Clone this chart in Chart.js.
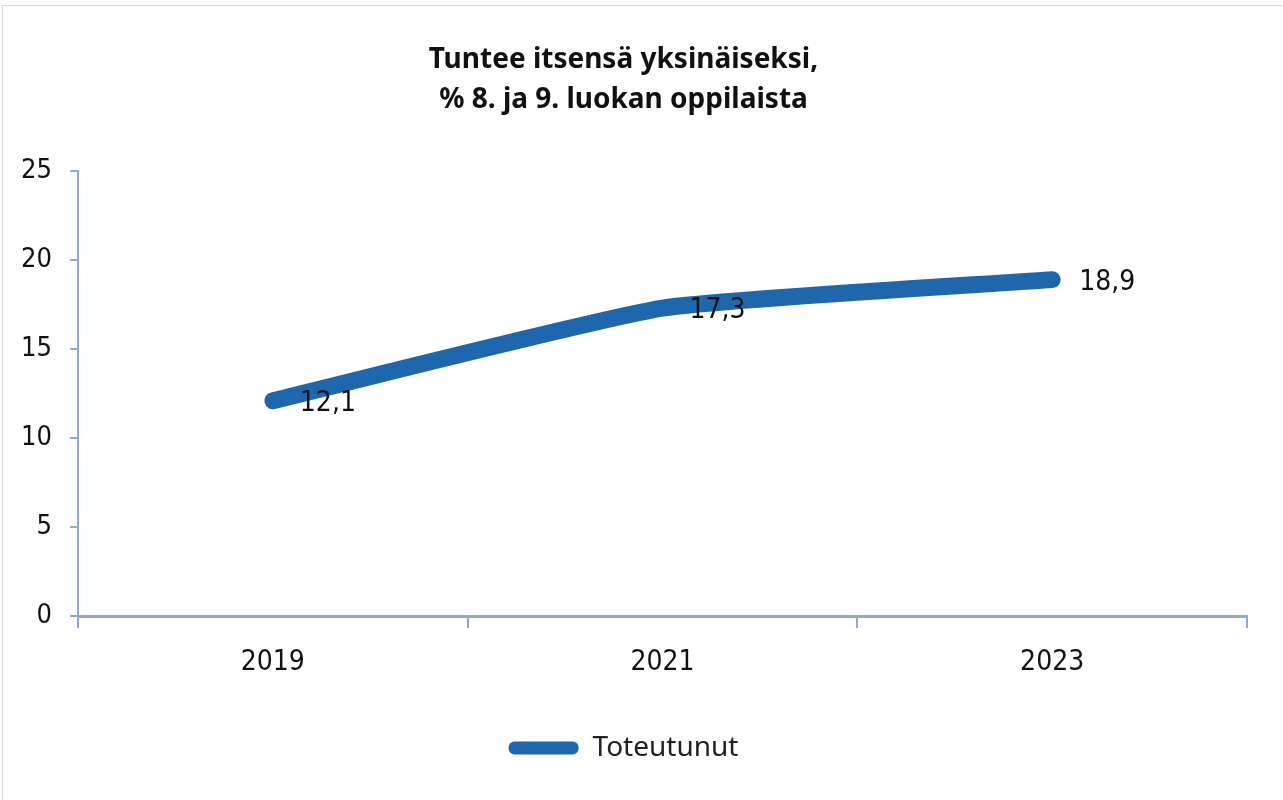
<!DOCTYPE html>
<html>
<head>
<meta charset="utf-8">
<script src="https://cdn.jsdelivr.net/npm/chart.js@4/dist/chart.umd.min.js"></script>
<style>
  body { margin: 0; background: #fff; }
  #frame { position: absolute; left: 2px; top: 5px; width: 1290px; height: 800px; border: 1px solid #d9d9d9; pointer-events: none; }
  canvas { display: block; }
</style>
</head>
<body>
<canvas id="lonelyChart" width="1283" height="800"></canvas>
<div id="frame"></div>
<script>
const years = ['2019', '2021', '2023'];
const toteutunut = [12.1, 17.3, 18.9];
const yTicks = [0, 5, 10, 15, 20, 25];

const axisColor = '#8faad0';
const lineColor = '#1f67ac';
const narrow = '"Liberation Sans Narrow", "DejaVu Sans Condensed", "Arial Narrow", sans-serif';

// values next to the points, with decimal comma
const valueLabels = {
    id: 'valueLabels',
    afterDatasetsDraw(chart) {
        const ctx = chart.ctx;
        const meta = chart.getDatasetMeta(0);
        ctx.save();
        ctx.font = '28px ' + narrow;
        ctx.fillStyle = '#111';
        ctx.textAlign = 'left';
        ctx.textBaseline = 'middle';
        meta.data.forEach(function (pt, i) {
            const txt = String(toteutunut[i]).replace('.', ',');
            ctx.fillText(txt, pt.x + 27, pt.y + 3);
        });
        ctx.restore();
    }
};

document.addEventListener('DOMContentLoaded', function () {
    const ctx = document.getElementById('lonelyChart').getContext('2d');
    new Chart(ctx, {
        type: 'line',
        data: {
            labels: years,
            datasets: [{
                label: 'Toteutunut',
                data: toteutunut,
                borderColor: lineColor,
                backgroundColor: lineColor,
                borderWidth: 17,
                borderCapStyle: 'round',
                borderJoinStyle: 'round',
                tension: 0.15,
                pointRadius: 0,
                pointHoverRadius: 0,
                clip: false
            }]
        },
        options: {
            responsive: false,
            animation: false,
            layout: { padding: { left: 0, right: 36, top: 0, bottom: 28 } },
            scales: {
                x: {
                    offset: true,
                    afterFit: function (scale) { scale.height = 100; },
                    border: { display: true, color: axisColor, width: 3 },
                    grid: {
                        offset: true,
                        drawOnChartArea: false,
                        drawTicks: true,
                        tickLength: 12,
                        color: axisColor,
                        lineWidth: 2
                    },
                    ticks: {
                        padding: 18,
                        color: '#111',
                        font: { family: narrow, size: 28 }
                    }
                },
                y: {
                    min: 0,
                    max: 25,
                    afterFit: function (scale) { scale.width = 78; },
                    afterBuildTicks: function (scale) {
                        scale.ticks = yTicks.map(function (v) { return { value: v }; });
                    },
                    border: { display: true, color: axisColor, width: 2 },
                    grid: {
                        drawOnChartArea: false,
                        drawTicks: true,
                        tickLength: 8,
                        color: axisColor,
                        lineWidth: 2
                    },
                    ticks: {
                        padding: 18,
                        color: '#111',
                        font: { family: narrow, size: 27 }
                    }
                }
            },
            plugins: {
                title: {
                    display: true,
                    text: ['Tuntee itsensä yksinäiseksi,', '% 8. ja 9. luokan oppilaista'],
                    color: '#111',
                    font: { family: '"Noto Sans"', size: 28, weight: 'bold', lineHeight: 1.43 },
                    padding: { top: 40, bottom: 51 }
                },
                legend: {
                    position: 'bottom',
                    labels: {
                        boxWidth: 70,
                        boxHeight: 13,
                        useBorderRadius: true,
                        borderRadius: 6,
                        padding: 18,
                        color: '#222',
                        font: { family: '"Noto Sans"', size: 28 },
                        generateLabels: function (chart) {
                            const items = Chart.defaults.plugins.legend.labels.generateLabels(chart);
                            items.forEach(function (it) {
                                it.lineWidth = 0;
                                it.strokeStyle = 'rgba(0,0,0,0)';
                                it.borderRadius = 6;
                            });
                            return items;
                        }
                    }
                },
                tooltip: { enabled: false }
            }
        },
        plugins: [valueLabels]
    });
});
</script>
</body>
</html>
